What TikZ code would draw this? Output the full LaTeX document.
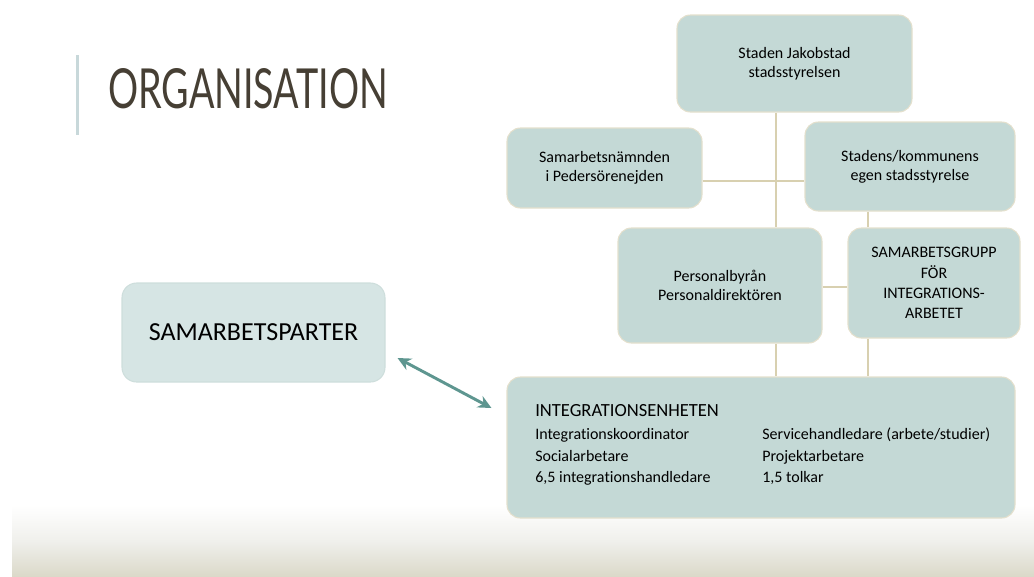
\documentclass[tikz,border=0pt]{standalone}
\usepackage{fontspec}
\setmainfont[Ligatures=NoCommon]{Carlito}
\newfontfamily\titlefont{Lato}
\usetikzlibrary{arrows.meta,calc}
\definecolor{boxfill}{RGB}{196,217,214}
\definecolor{boxline}{RGB}{228,224,205}
\definecolor{sampfill}{RGB}{214,229,228}
\definecolor{sampline}{RGB}{206,222,220}
\definecolor{connline}{RGB}{216,208,176}
\definecolor{arrowcol}{RGB}{94,150,144}
\definecolor{titlecol}{RGB}{70,63,52}
\definecolor{barcol}{RGB}{200,216,218}
\definecolor{bandbot}{RGB}{219,217,201}
\definecolor{bandmid}{RGB}{240,240,236}
\begin{document}
\begin{tikzpicture}[x=0.75pt,y=-0.75pt,
  orgbox/.style={draw=boxline, line width=0.8pt, fill=boxfill, rounded corners=10pt,
    inner sep=0pt, align=center, font=\fontsize{12}{14.5}\selectfont},
  sampbox/.style={draw=sampline, line width=0.8pt, fill=sampfill, rounded corners=11pt,
    inner sep=0pt, align=center, font=\fontsize{19.5}{23}\selectfont},
  conn/.style={draw=connline, line width=1.5pt},
  twoway/.style={draw=arrowcol, line width=2.2pt, {Stealth[length=10pt,width=9.5pt]}-{Stealth[length=10pt,width=9.5pt]}},
  rowtext/.style={anchor=base west, inner sep=0pt, font=\fontsize{12}{14}\selectfont}]
\useasboundingbox (0,0) rectangle (1034,576);
% bottom band
\shade[top color=white, bottom color=bandbot, middle color=bandmid] (12,505) rectangle (1034,576);
% title
\fill[barcol] (75.5,55) rectangle (78.5,135);
\node[anchor=base west, inner sep=0pt, text=titlecol] (title) at (108,108)
  {\resizebox{210pt}{30pt}{\titlefont ORGANISATION}};
% boxes
\node[orgbox, minimum width=176.25pt, minimum height=72.75pt] (top) at (794.5,63.5)
  {Staden Jakobstad\\stadsstyrelsen};
\node[orgbox, minimum width=146.25pt, minimum height=60pt] (nam) at (604.5,168)
  {Samarbetsnämnden\\i Pedersörenejden};
\node[orgbox, minimum width=157.5pt, minimum height=66.75pt] (stadens) at (910,166.5)
  {Stadens/kommunens\\egen stadsstyrelse};
\node[orgbox, minimum width=153pt, minimum height=86.25pt] (pers) at (720,285.5)
  {Personalbyrån\\Personaldirektören};
\node[orgbox, minimum width=129pt, minimum height=82.5pt, font=\fontsize{12}{15.3}\selectfont] (grupp) at (934,283)
  {SAMARBETSGRUPP\\FÖR\\INTEGRATIONS-\\ARBETET};
\node[orgbox, minimum width=381pt, minimum height=105.75pt] (integ) at (761,447.5) {};
\node[sampbox, minimum width=197.25pt, minimum height=74.25pt] (samp) at (253.5,332.5)
  {SAMARBETSPARTER};
% integration unit text
\node[rowtext, font=\fontsize{13.9}{16}\selectfont] (ihead) at (535,416) {INTEGRATIONSENHETEN};
\node[rowtext] (ia1) at (535,439) {Integrationskoordinator};
\node[rowtext] (ia2) at (535,461) {Socialarbetare};
\node[rowtext] (ia3) at (535,482) {6,5 integrationshandledare};
\node[rowtext] (ib1) at (762,439) {Servicehandledare (arbete/studier)};
\node[rowtext] (ib2) at (762,461) {Projektarbetare};
\node[rowtext] (ib3) at (762,482) {1,5 tolkar};
% connectors
\coordinate (tx) at (776,0);
\coordinate (gx) at (868,0);
\coordinate (hy) at (0,181);
\coordinate (py) at (0,287);
\draw[conn] (top.south -| tx) -- (pers.north -| tx);
\draw[conn] (pers.south -| tx) -- (integ.north -| tx);
\draw[conn] (nam.east |- hy) -- (stadens.west |- hy);
\draw[conn] (stadens.south -| gx) -- (grupp.north -| gx);
\draw[conn] (grupp.south -| gx) -- (integ.north -| gx);
\draw[conn] (pers.east |- py) -- (grupp.west |- py);
% two-way arrow
\coordinate (a1) at ($(samp.east)+(12,25.5)$);
\coordinate (a2) at ($(integ.west)+(-15,-39.5)$);
\draw[twoway] (a1) -- (a2);
\end{tikzpicture}
\end{document}
